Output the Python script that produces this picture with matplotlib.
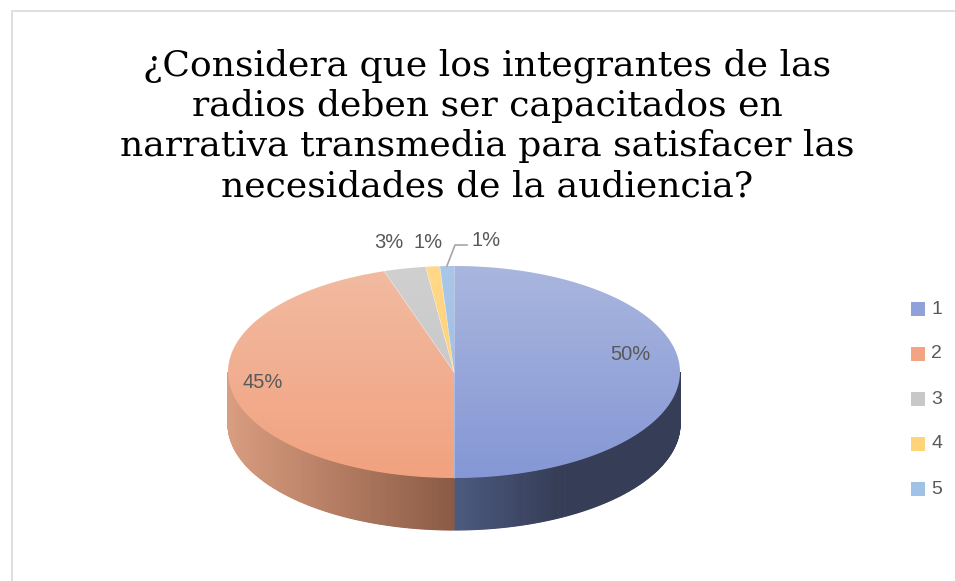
import numpy as np
import matplotlib
matplotlib.use("Agg")
import matplotlib.pyplot as plt
from matplotlib.patches import Polygon
from matplotlib.colors import to_rgb

# --Data--
title = "¿Considera que los integrantes de las\nradios deben ser capacitados en\nnarrativa transmedia para satisfacer las\nnecesidades de la audiencia?"
categories = ["1", "2", "3", "4", "5"]
values = [50, 45, 3, 1, 1]
labels = ["50%", "45%", "3%", "1%", "1%"]

# top colours (light, dark) and side colours (light, dark)
top_cols = [("#a9b6de", "#8597d5"), ("#f1bba2", "#f2a27f"), ("#d0d0d0", "#c2c2c2"),
            ("#ffd889", "#ffcd6c"), ("#a9c7e8", "#97bbe3")]
side_cols = [("#4c5a80", "#363e57"), ("#d99d80", "#8b5a44"), ("#9a9a9a", "#777777"),
             ("#c09a50", "#a07e3c"), ("#7090b0", "#5a7896")]
legend_cols = ["#8fa1d8", "#f3a483", "#c8c8c8", "#ffd37a", "#9fc2e6"]

# --Geometry (pixel space)--
W, H = 955, 581
cx, cy, rx, ry, depth = 454, 372, 226, 106, 52

fig = plt.figure(figsize=(W / 100, H / 100), dpi=100)
ax = fig.add_axes([0, 0, 1, 1])
ax.set_xlim(0, W)
ax.set_ylim(H, 0)
ax.axis("off")

# chart border
ax.plot([12, 12, W + 5], [H + 5, 11, 11], color="#d9d9d9", lw=1.2)


def pt(t, dy=0.0):
    r = np.radians(t)
    return cx + rx * np.sin(r), cy - ry * np.cos(r) + dy


total = float(sum(values))
angles = np.concatenate([[0], np.cumsum(values) / total * 360.0])

# sides (front half only), shaded by x position
for i in range(len(values)):
    a0, a1 = max(angles[i], 90), min(angles[i + 1], 270)
    if a1 <= a0:
        continue
    c_light, c_dark = np.array(to_rgb(side_cols[i][0])), np.array(to_rgb(side_cols[i][1]))
    steps = np.linspace(a0, a1, max(int((a1 - a0) * 2), 2))
    for s0, s1 in zip(steps[:-1], steps[1:]):
        x0, y0 = pt(s0)
        x1, y1 = pt(s1)
        xm = (x0 + x1) / 2
        if i == 0:
            f = np.clip((xm - cx) / (rx * 0.45), 0, 1)
        else:
            f = np.clip((xm - (cx - rx)) / rx, 0, 1)
        col = c_light * (1 - f) + c_dark * f
        ax.add_patch(Polygon([(x0, y0), (x1, y1), (x1, y1 + depth), (x0, y0 + depth)],
                             closed=True, facecolor=col, edgecolor=col, lw=0.8))

# top faces with vertical gradient
grad = np.linspace(0, 1, 256)[:, None]
for i in range(len(values)):
    ts = np.linspace(angles[i], angles[i + 1], max(int(values[i] * 4), 4))
    verts = [(cx, cy)] + [pt(t) for t in ts]
    poly = Polygon(verts, closed=True, facecolor="none", edgecolor="none")
    ax.add_patch(poly)
    c0, c1 = np.array(to_rgb(top_cols[i][0])), np.array(to_rgb(top_cols[i][1]))
    img = c0[None, None, :] * (1 - grad[:, :, None]) + c1[None, None, :] * grad[:, :, None]
    im = ax.imshow(np.repeat(img, 2, axis=1), extent=[cx - rx, cx + rx, cy + ry, cy - ry],
                   aspect="auto", interpolation="bilinear", zorder=2)
    im.set_clip_path(poly)
    ax.plot([cx, verts[1][0]], [cy, verts[1][1]], color="white", lw=0.4, alpha=0.5, zorder=3)

ax.set_xlim(0, W)
ax.set_ylim(H, 0)

# data labels
lab_font = dict(fontsize=14.5, color="#595959", family="Liberation Sans", va="center", ha="center", zorder=5)
ax.text(630, 355, labels[0], **lab_font)
ax.text(263, 383, labels[1], **lab_font)
ax.text(389, 243, labels[2], **lab_font)
ax.text(428, 243, labels[3], **lab_font)
ax.text(486, 240, labels[4], **lab_font)
lx, ly = pt((angles[4] + angles[5]) / 2)
ax.plot([lx, 455, 467], [ly, 245, 245], color="#a6a6a6", lw=1.2, zorder=5)

# legend
for k, (cat, col) in enumerate(zip(categories, legend_cols)):
    yy = 309 + k * 45
    ax.add_patch(Polygon([(911, yy - 7), (925, yy - 7), (925, yy + 7), (911, yy + 7)],
                         closed=True, facecolor=col, edgecolor="none"))
    ax.text(931, yy, cat, fontsize=14, color="#595959", family="Liberation Sans",
            va="center", ha="left")

# title
ax.text(487, 126, title, fontsize=26, family="DejaVu Serif", color="black",
        ha="center", va="center", linespacing=1.24)

fig.savefig("out.png", dpi=100)
